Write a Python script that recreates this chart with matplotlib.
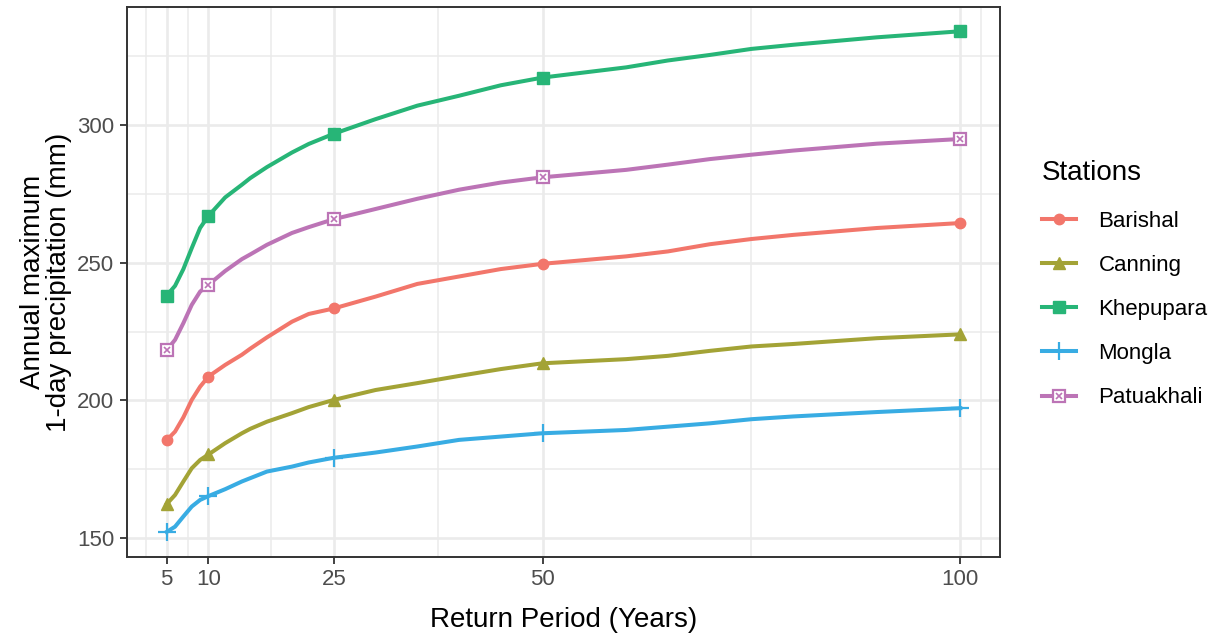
import matplotlib
matplotlib.use("Agg")
import matplotlib.pyplot as plt
from matplotlib.lines import Line2D
from matplotlib.legend_handler import HandlerTuple

plt.rcParams["font.family"] = ["Liberation Sans", "DejaVu Sans"]

# Return periods (years) at which the curves are drawn
years = [5, 6, 7, 8, 9, 10, 12, 14, 15, 17, 20, 22, 25, 30, 35, 40, 45, 50,
         60, 65, 70, 75, 80, 90, 100]
marker_years = [5, 10, 25, 50, 100]

# Annual maximum 1-day precipitation (mm) per station
barishal = [185.6, 188.7, 193.9, 200.2, 205.0, 208.7, 212.9, 216.6, 218.8, 222.9,
            228.6, 231.4, 233.4, 237.7, 242.3, 245.0, 247.7, 249.6,
            252.3, 254.1, 256.7, 258.6, 260.1, 262.6, 264.4]
canning = [162.4, 165.7, 170.6, 175.4, 178.4, 180.4, 184.5, 188.1, 189.7, 192.3,
           195.4, 197.6, 200.2, 203.8, 206.3, 208.9, 211.4, 213.5,
           215.0, 216.2, 218.0, 219.6, 220.5, 222.6, 224.0]
khepupara = [238.1, 241.6, 247.7, 255.3, 262.6, 267.0, 273.7, 278.3, 280.7, 284.7,
             290.0, 293.1, 296.8, 302.1, 307.0, 310.6, 314.4, 317.2,
             320.9, 323.4, 325.4, 327.6, 329.1, 331.8, 334.0]
mongla = [152.3, 154.2, 157.9, 161.5, 163.9, 165.3, 167.8, 170.6, 171.8, 174.2,
          176.0, 177.5, 179.2, 181.1, 183.3, 185.7, 186.9, 188.1,
          189.3, 190.5, 191.7, 193.2, 194.2, 195.8, 197.2]
patuakhali = [218.3, 222.0, 228.1, 234.7, 239.5, 242.0, 247.0, 251.3, 253.0, 256.5,
              260.8, 262.9, 265.8, 269.5, 273.2, 276.5, 279.1, 281.0,
              283.7, 285.6, 287.6, 289.2, 290.7, 293.2, 294.9]

stations = ["Barishal", "Canning", "Khepupara", "Mongla", "Patuakhali"]
series = [barishal, canning, khepupara, mongla, patuakhali]
colors = ["#F2766B", "#A3A336", "#27B577", "#38ACE3", "#BC74B6"]

x_breaks = [5, 10, 25, 50, 100]
x_minor = [2.5, 7.5, 17.5, 37.5, 75, 102.5]
y_breaks = [150, 200, 250, 300]
y_minor = [175, 225, 275, 325]

fig = plt.figure(figsize=(12.25, 6.34), dpi=100)
ax = fig.add_axes([127 / 1225, 1 - 556.7 / 634, (1000 - 127) / 1225, (556.7 - 7.3) / 634])

ax.set_xlim(0.25, 104.75)
ax.set_ylim(143.3, 342.7)

grid_col = "#EBEBEB"
for v in x_minor:
    ax.axvline(v, color=grid_col, lw=1.1, zorder=0)
for v in y_minor:
    ax.axhline(v, color=grid_col, lw=1.1, zorder=0)
for v in x_breaks:
    ax.axvline(v, color=grid_col, lw=1.9, zorder=0)
for v in y_breaks:
    ax.axhline(v, color=grid_col, lw=1.9, zorder=0)

lw = 2.9
handles = []
for name, vals, col in zip(stations, series, colors):
    mx = [y for y in years if y in marker_years]
    my = [v for y, v in zip(years, vals) if y in marker_years]
    ax.plot(years, vals, color=col, lw=lw, solid_joinstyle="round", zorder=3)
    if name == "Barishal":
        ax.plot(mx, my, ls="none", marker="o", ms=7.5, color=col, zorder=4)
        h = Line2D([], [], color=col, lw=lw, marker="o", ms=7.5)
    elif name == "Canning":
        ax.plot(mx, my, ls="none", marker="^", ms=9, color=col, zorder=4)
        h = Line2D([], [], color=col, lw=lw, marker="^", ms=9)
    elif name == "Khepupara":
        ax.plot(mx, my, ls="none", marker="s", ms=8, color=col, zorder=4)
        h = Line2D([], [], color=col, lw=lw, marker="s", ms=8)
    elif name == "Mongla":
        ax.plot(mx, my, ls="none", marker="+", ms=13, mew=1.6, color=col, zorder=4)
        h = Line2D([], [], color=col, lw=lw, marker="+", ms=13, mew=1.6)
    else:
        ax.plot(mx, my, ls="none", marker="s", ms=8, mfc="white", mec=col, mew=1.6, zorder=4)
        ax.plot(mx, my, ls="none", marker="x", ms=5, color=col, mew=1.2, zorder=5)
        h = (Line2D([], [], color=col, lw=lw, marker="s", ms=8, mfc="white", mec=col, mew=1.6),
             Line2D([], [], ls="none", marker="x", ms=5, color=col, mew=1.2))
    handles.append(h)

ax.set_xticks(x_breaks)
ax.set_xticklabels([str(v) for v in x_breaks])
ax.set_yticks(y_breaks)
ax.set_yticklabels([str(v) for v in y_breaks])
ax.tick_params(axis="both", which="major", length=5, width=1.3, color="#333333",
               labelcolor="#4D4D4D", labelsize=16, pad=4)
for sp in ax.spines.values():
    sp.set_color("#333333")
    sp.set_linewidth(1.4)
    sp.set_zorder(6)

ax.set_xlabel("Return Period (Years)", fontsize=20, color="black", labelpad=12)
ax.set_ylabel("Annual maximum\n1-day precipitation (mm)", fontsize=20, color="black",
              labelpad=4, linespacing=1.0)

leg = fig.legend(handles, stations, loc="upper left",
                 bbox_to_anchor=(1033 / 1225, 1 - 151 / 634),
                 title="Stations", title_fontsize=20, fontsize=16, frameon=False,
                 handlelength=1.55, handletextpad=1.0, labelspacing=1.04,
                 borderaxespad=0, alignment="left",
                 handler_map={tuple: HandlerTuple(ndivide=1, pad=0)})
leg._legend_box.sep = 18

fig.savefig("out.png", dpi=100)
